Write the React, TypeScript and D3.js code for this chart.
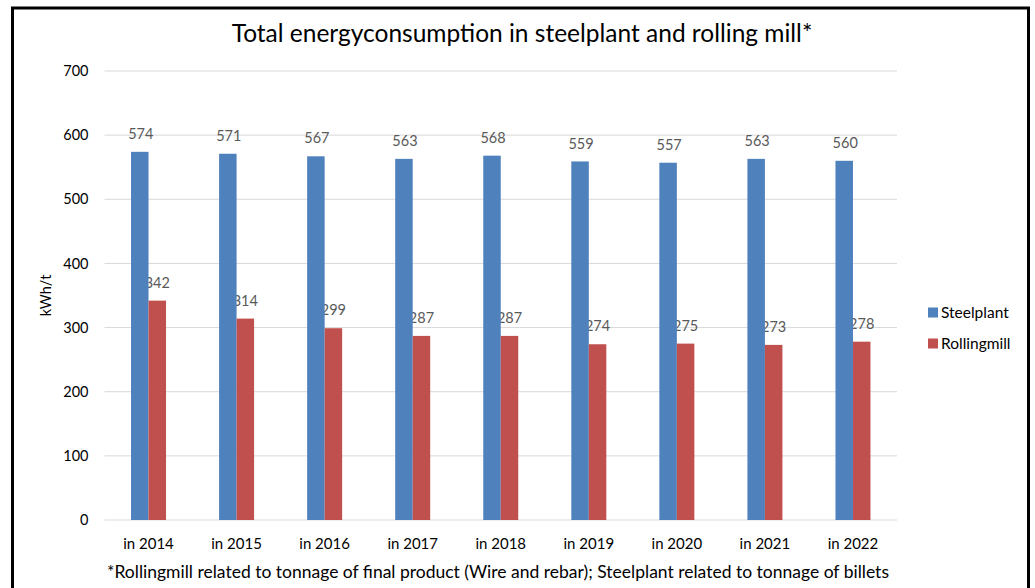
import React from "react";
import * as d3 from "d3";

const categories = ["in 2014", "in 2015", "in 2016", "in 2017", "in 2018", "in 2019", "in 2020", "in 2021", "in 2022"];
const steelplant = [574, 571, 567, 563, 568, 559, 557, 563, 560];
const rollingmill = [342, 314, 299, 287, 287, 274, 275, 273, 278];
const seriesNames = ["Steelplant", "Rollingmill"];
const seriesColors = ["#4F81BD", "#C0504D"];
const yTicks = [0, 100, 200, 300, 400, 500, 600, 700];

const FONT = "Lato, 'Open Sans', sans-serif";

export default function App() {
  const W = 1035, H = 588;
  const left = 104.5, right = 897, top = 71, bottom = 520;
  const x = d3.scaleBand<string>().domain(categories).range([left, right]).paddingInner(0).paddingOuter(0);
  const y = d3.scaleLinear().domain([0, 700]).range([bottom, top]);
  const barW = 17.5;
  const series = [steelplant, rollingmill];

  return (
    <svg width={W} height={H} style={{ position: "absolute", left: 0, top: 0, background: "#fff" }} fontFamily={FONT}>
      <rect x={0} y={0} width={W} height={H} fill="#fff" />
      <path d={`M12.5,${H + 5} V8 H1028.5 V${H + 5}`} fill="none" stroke="#000" strokeWidth={3} />
      <text x={522} y={41.5} textAnchor="middle" fontSize={24.5} fill="#000">
        Total energyconsumption in steelplant and rolling mill*
      </text>
      {yTicks.map((t) => (
        <g key={t}>
          <line x1={left} x2={right} y1={y(t)} y2={y(t)} stroke="#d9d9d9" strokeWidth={1} />
          <text x={88.5} y={y(t)} dy="0.35em" textAnchor="end" fontSize={14.5} fill="#000">{t}</text>
        </g>
      ))}
      <text transform={`translate(51,${(top + bottom) / 2}) rotate(-90)`} textAnchor="middle" fontSize={14.5} fill="#000">kWh/t</text>
      {categories.map((c, i) => {
        const cx = x(c)! + x.bandwidth() / 2;
        return (
          <text key={"rl" + c} x={cx + barW / 2} y={y(rollingmill[i]) - 18} dy="0.35em" textAnchor="middle" fontSize={14.5} fill="#595959">
            {rollingmill[i]}
          </text>
        );
      })}
      {series.map((vals, s) =>
        categories.map((c, i) => {
          const cx = x(c)! + x.bandwidth() / 2;
          const bx = cx - barW + s * barW;
          return <rect key={s + c} x={bx} y={y(vals[i])} width={barW} height={y(0) - y(vals[i])} fill={seriesColors[s]} />;
        })
      )}
      {categories.map((c, i) => {
        const cx = x(c)! + x.bandwidth() / 2;
        return (
          <text key={"sl" + c} x={cx - barW / 2 + 1} y={y(steelplant[i]) - 18} dy="0.35em" textAnchor="middle" fontSize={14.5} fill="#595959">
            {steelplant[i]}
          </text>
        );
      })}
      {categories.map((c) => (
        <text key={"x" + c} x={x(c)! + x.bandwidth() / 2} y={544} dy="0.35em" textAnchor="middle" fontSize={15} fill="#000">{c}</text>
      ))}
      {seriesNames.map((n, s) => (
        <g key={n} transform={`translate(928,${307.5 + s * 31})`}>
          <rect x={0} y={0} width={10} height={10} fill={seriesColors[s]} />
          <text x={13} y={5} dy="0.35em" fontSize={15.5} fill="#000">{n}</text>
        </g>
      ))}
      <text x={498} y={572} dy="0.35em" textAnchor="middle" fontSize={17.5} fill="#000">
        *Rollingmill related to tonnage of final product (Wire and rebar); Steelplant related to tonnage of billets
      </text>
    </svg>
  );
}
